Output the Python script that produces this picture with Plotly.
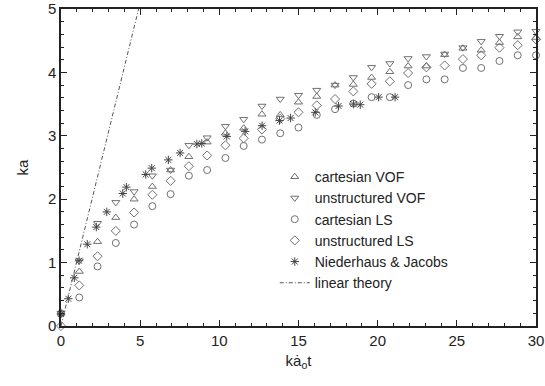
import plotly.graph_objects as go

# ---- data ----
t_sim = [i * 30 / 26 for i in range(27)]

cart_vof = [0.20, 0.86, 1.33, 1.71, 2.00, 2.20, 2.46, 2.67, 2.90, 3.04, 3.12, 3.34, 3.33, 3.53,
            3.62, 3.80, 3.81, 3.92, 4.01, 4.10, 4.10, 4.28, 4.38, 4.35, 4.47, 4.56, 4.55]
unstr_vof = [0.20, 1.03, 1.62, 1.95, 2.12, 2.37, 2.46, 2.85, 2.97, 3.15, 3.26, 3.47, 3.58, 3.64,
             3.72, 3.80, 3.92, 4.08, 4.14, 4.22, 4.25, 4.29, 4.39, 4.49, 4.57, 4.64, 4.65]
cart_ls = [0.20, 0.45, 0.94, 1.31, 1.60, 1.89, 2.08, 2.37, 2.46, 2.65, 2.84, 2.94, 3.04, 3.13,
           3.33, 3.42, 3.51, 3.61, 3.61, 3.80, 3.89, 3.89, 4.07, 4.07, 4.18, 4.27, 4.27]
unstr_ls = [0.00, 0.64, 1.10, 1.50, 1.79, 2.07, 2.29, 2.52, 2.69, 2.85, 2.96, 3.10, 3.27, 3.37,
            3.48, 3.58, 3.70, 3.82, 3.86, 3.99, 4.08, 4.11, 4.21, 4.27, 4.39, 4.43, 4.52]

nj_t = [0.0, 0.46, 0.84, 1.14, 1.66, 2.23, 2.89, 3.90, 4.13, 5.35, 5.73, 6.78, 7.52, 8.58, 8.89,
        10.47, 11.63, 12.70, 13.80, 14.50, 16.06, 17.53, 18.48, 18.90, 20.06, 21.10]
nj_ka = [0.19, 0.43, 0.76, 1.03, 1.29, 1.56, 1.80, 2.09, 2.19, 2.39, 2.49, 2.62, 2.73, 2.87, 2.88,
         2.99, 3.07, 3.16, 3.24, 3.28, 3.37, 3.47, 3.50, 3.49, 3.61, 3.61]

lin_t = [0.0, 4.9]
lin_ka = [0.0, 5.0]

x_ticks = [0, 5, 10, 15, 20, 25, 30]
y_ticks = [0, 1, 2, 3, 4, 5]

GRAY = "#707070"
DARK = "#444444"
FONT = "Liberation Sans, Arial, sans-serif"

fig = go.Figure()

def pts(x, y, name, symbol, color=GRAY, size=7):
    fig.add_trace(go.Scatter(
        x=x, y=y, name=name, mode="markers", cliponaxis=False,
        marker=dict(symbol=symbol, size=size, color=color,
                    line=dict(color=color, width=1)),
    ))

pts(t_sim, cart_vof, "cartesian VOF", "triangle-up-open")
pts(t_sim, unstr_vof, "unstructured VOF", "triangle-down-open")
pts(t_sim, cart_ls, "cartesian LS", "circle-open")
pts(t_sim, unstr_ls, "unstructured LS", "diamond-open")
pts(nj_t, nj_ka, "Niederhaus & Jacobs", "asterisk-open", color=DARK, size=7)

fig.add_trace(go.Scatter(
    x=lin_t, y=lin_ka, name="linear theory", mode="lines",
    line=dict(color="#555555", width=1, dash="4px,2px,1px,2px"),
))

axis_common = dict(
    showgrid=False, zeroline=False, showline=True, linecolor="#222222", linewidth=1.5,
    mirror="allticks", ticks="inside", ticklen=6, tickwidth=1, tickcolor="#222222",
    tickfont=dict(family=FONT, size=15, color="#222222"), automargin=False,
)

fig.update_xaxes(
    range=[0, 30], tickvals=x_ticks, ticktext=[str(v) for v in x_ticks],
    minor=dict(dtick=1, ticks="inside", ticklen=3, tickcolor="#222222"),
    title=dict(text="ka\u0307<sub>o</sub>t", standoff=8,
               font=dict(family=FONT, size=15, color="#222222")),
    **axis_common,
)
fig.update_yaxes(
    range=[0, 5], tickvals=y_ticks, ticktext=[str(v) for v in y_ticks],
    minor=dict(dtick=0.2, ticks="inside", ticklen=3, tickcolor="#222222"),
    title=dict(text="ka", standoff=16,
               font=dict(family=FONT, size=15, color="#222222")),
    **axis_common,
)

fig.update_layout(
    width=545, height=386,
    margin=dict(l=61, r=9, t=9, b=60, autoexpand=False),
    plot_bgcolor="white", paper_bgcolor="white",
    showlegend=True,
    legend=dict(
        x=0.45, y=0.52, xanchor="left", yanchor="top",
        bgcolor="rgba(0,0,0,0)", borderwidth=0,
        font=dict(family=FONT, size=14, color="#222222"),
        tracegroupgap=0, itemwidth=30,
    ),
)

# place the figure at the window's top-left corner (no default page margin)
fig.write_html(
    "out.html",
    config={"displayModeBar": False},
    post_script="document.body.style.margin='0';document.body.style.overflow='hidden';",
)
